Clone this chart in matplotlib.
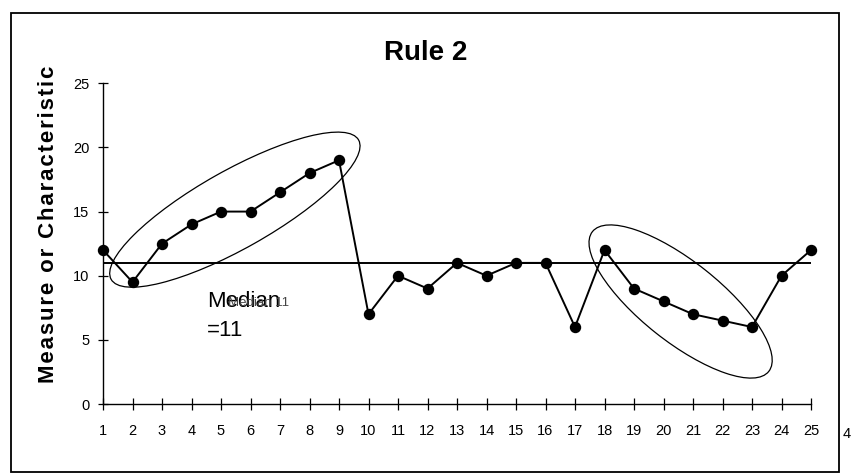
import matplotlib.pyplot as plt
from matplotlib.patches import Ellipse, Rectangle
from matplotlib.transforms import ScaledTranslation

plt.rcParams['font.family'] = ['Liberation Sans', 'DejaVu Sans']

# data
samples = list(range(1, 26))
values = [12, 9.5, 12.5, 14, 15, 15, 16.5, 18, 19, 7, 10, 9, 11, 10, 11, 11, 6,
          12, 9, 8, 7, 6.5, 6, 10, 12]
median = 11
y_ticks = [0, 5, 10, 15, 20, 25]
y_label = 'Measure or Characteristic'

# circled runs: (centre x, centre y) in data, size in inches, tilt in degrees
runs = [((5.47, 15.15), 2.84, 0.78, 29.4),
        ((20.58, 7.99), 2.25, 0.80, -38.4)]

W, H = 851, 476
fig = plt.figure(figsize=(W / 100, H / 100), dpi=100)
ax = fig.add_axes([103 / W, 1 - 404 / H, (811 - 103) / W, (404 - 83.3) / H])

ax.plot(samples, values, color='black', lw=1.4, marker='o', markersize=7.2,
        clip_on=False, zorder=3)
ax.plot([samples[0], samples[-1]], [median, median], color='black', lw=1.4,
        zorder=2)

for (cx, cy), w, h, ang in runs:
    trans = fig.dpi_scale_trans + ScaledTranslation(cx, cy, ax.transData)
    ax.add_patch(Ellipse((0, 0), w, h, angle=ang, transform=trans,
                         fill=False, edgecolor='black', lw=0.9, clip_on=False))

ax.set_xlim(1, 25)
ax.set_ylim(0, 25)
ax.set_xticks(samples)
ax.set_yticks(y_ticks)
for side in ['top', 'right']:
    ax.spines[side].set_visible(False)
for side in ['left', 'bottom']:
    ax.spines[side].set_linewidth(1.0)
ax.tick_params(axis='x', direction='inout', length=9, width=0.9, pad=10,
               labelsize=10.5)
ax.tick_params(axis='y', direction='inout', length=7.5, width=0.9, pad=6,
               labelsize=10.5)

fig.text(426 / W, 1 - 52.5 / H, 'Rule 2', fontsize=20, fontweight='bold',
         ha='center', va='center')
# the original label is letter-spaced; hair spaces widen it
fig.text(49 / W, 1 - 224 / H, '\u200a'.join(y_label), fontsize=16,
         fontweight='bold', rotation=90, ha='center', va='center')

fig.text(207 / W, 1 - 307 / H, 'Median', fontsize=16, ha='left',
         va='baseline')
fig.text(207 / W, 1 - 336 / H, '=11', fontsize=16, ha='left', va='baseline')
fig.text(228 / W, 1 - 306 / H, 'Median 11', fontsize=9.5, color='#444444',
         ha='left', va='baseline')
fig.text(843 / W, 1 - 434 / H, '4', fontsize=10.5, ha='left', va='center')

fig.patches.append(Rectangle((10.7 / W, 1 - 471.7 / H), 828 / W, 459 / H,
                             transform=fig.transFigure, fill=False,
                             edgecolor='black', lw=1.3))

fig.savefig('out.png', dpi=100)
